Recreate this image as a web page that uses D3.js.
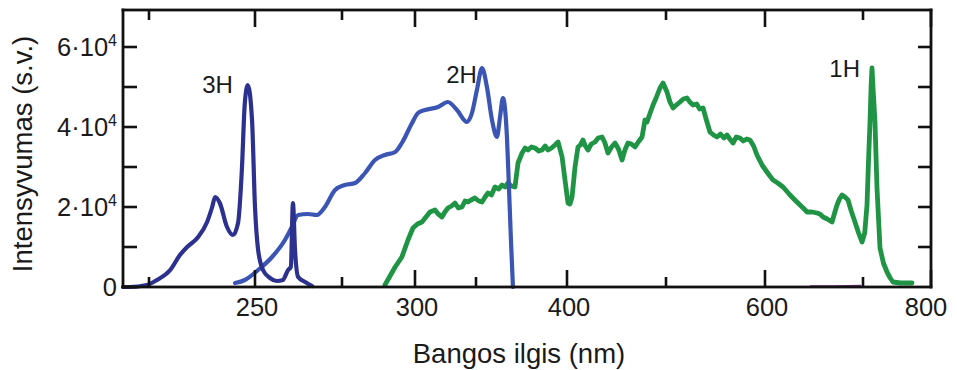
<!DOCTYPE html>
<html>
<head>
<meta charset="utf-8">
<script src="https://cdn.jsdelivr.net/npm/d3@7/dist/d3.min.js"></script>
<style>
  html, body { margin: 0; padding: 0; background: #fff; }
  svg text { font-family: "Liberation Sans", Arial, sans-serif; fill: #1a1a1a; }
</style>
</head>
<body>
<svg id="chart" width="957" height="370"></svg>
<script>
// Wavelength (nm) and intensity (a.u.) of the three harmonics
const h3Wavelength = [219, 220.5, 224.5, 226.9, 230.0, 232.3, 234.0, 236.6, 238.7, 239.9, 240.6, 241.7, 243.4, 244.8, 246.0, 246.9, 247.6, 248.3, 249.3, 250.0, 250.9, 252.3, 254.3, 256.3, 258.0, 259.5, 260.3, 260.9, 261.5, 262.4, 264.4, 266.4];
const h3Intensity  = [0, 0, 500, 1750, 4250, 8000, 10000, 12500, 16250, 20000, 22500, 21000, 15000, 13000, 16000, 29250, 46000, 50500, 41750, 20000, 9250, 4250, 2250, 1500, 1750, 4250, 5000, 21000, 9250, 2500, 1250, 250];

const h2Wavelength = [245.3, 247.6, 250.9, 254.9, 258.6, 260.6, 262.4, 265.2, 267.8, 270.1, 273.0, 276.0, 279.5, 282.9, 286.3, 289.7, 293.2, 295.5, 299.0, 302.5, 308.2, 318.9, 327.0, 334.4, 342.6, 346.7, 350.5, 353.3, 356.0, 358.8, 361.5, 363.2, 364.8, 367.0, 368.1, 369.2, 370.3];
const h2Intensity  = [1000, 1750, 4250, 7500, 11750, 15000, 18000, 18250, 18000, 20000, 24250, 25500, 26000, 28500, 31750, 33000, 33750, 36000, 41000, 43500, 44250, 45000, 46250, 44250, 41250, 43500, 49250, 54750, 50000, 41750, 37500, 42500, 47250, 37500, 25000, 11750, 0];

const h1Wavelength = [289.7, 293.2, 295.5, 297.6, 299.3, 302.0, 305.7, 309.0, 312.3, 316.4, 319.0, 322.1, 324.5, 327.0, 330.0, 332.8, 335.5, 338.5, 341.0, 343.4, 346.0, 349.2, 351.5, 353.3, 355.0, 356.6, 358.5, 360.4, 362.5, 364.3, 366.0, 367.6, 369.5, 371.4, 373.1, 375.3, 377.0, 378.6, 380.5, 382.4, 384.5, 386.3, 388.0, 389.6, 391.5, 393.4, 395.1, 397.3, 398.9, 401.0, 403.0, 405.1, 408.1, 411.1, 413.5, 416.2, 418.5, 421.2, 424.5, 428.3, 431.5, 435.4, 438.0, 441.4, 445.0, 448.5, 452.0, 455.6, 458.5, 461.6, 465.0, 468.7, 472.0, 475.8, 478.8, 480.8, 484.0, 486.9, 490.0, 493.9, 497.0, 501.0, 504.0, 507.1, 510.5, 514.1, 517.5, 521.2, 524.0, 527.3, 531.0, 534.0, 537.4, 540.5, 544.4, 548.0, 551.5, 555.0, 558.5, 561.6, 564.5, 567.7, 571.0, 574.7, 578.0, 581.5, 584.8, 588.5, 591.9, 597.0, 602.0, 605.0, 608.2, 613.0, 618.4, 622.0, 625.5, 630.5, 635.7, 639.0, 642.9, 648.0, 653.1, 656.0, 659.2, 663.5, 668.4, 671.0, 673.5, 676.0, 678.6, 681.5, 684.7, 688.0, 691.8, 695.5, 699.0, 702.5, 705.9, 708.0, 710.3, 712.0, 713.2, 715.0, 717.6, 720.6, 725.0, 730.0, 735.3, 740.0, 744.1, 755.0, 764.7, 772.1];
const h1Intensity  = [500, 5000, 7500, 11750, 14750, 15750, 16250, 17500, 18750, 19250, 18250, 17500, 18750, 19750, 20250, 21000, 19750, 20000, 21500, 21250, 21750, 22250, 21500, 21250, 22500, 23500, 23000, 25000, 24500, 25500, 25000, 26000, 25250, 25000, 31000, 33500, 34750, 34250, 35000, 34750, 34000, 34250, 35250, 34250, 34750, 35500, 36250, 32500, 26750, 21000, 20750, 22500, 30000, 35000, 35500, 36750, 35250, 34250, 35750, 36250, 37250, 37500, 36250, 33500, 35000, 36000, 34500, 31750, 34250, 36000, 35750, 35000, 36250, 37500, 41750, 41250, 43500, 45500, 47250, 49750, 51000, 48750, 46250, 44750, 45500, 46250, 47000, 47250, 46250, 45500, 45750, 44500, 44750, 42000, 38750, 38000, 37500, 38250, 37250, 38000, 37000, 36000, 37500, 37250, 36500, 37000, 36750, 35250, 33000, 30500, 28750, 27750, 26750, 26000, 25000, 24000, 23000, 21750, 20500, 19750, 18750, 18750, 18500, 18250, 17500, 17000, 16250, 18500, 20500, 22000, 23000, 22500, 21750, 19000, 16250, 13500, 11250, 13500, 20500, 31000, 41250, 50500, 54750, 49000, 41250, 24750, 9750, 6000, 3750, 2250, 1250, 1000, 1000, 1000];

// Faint fundamental-range trace lying on the baseline
const baseWavelength = [645.9, 670.0, 698.0];
const baseIntensity  = [250, 250, 400];

// Axis ticks
const xTicksMajor = [250, 300, 400, 600, 800];
const xTicksMinor = [225, 275, 350, 500, 700];
const yTicksMajor = [0, 20000, 40000, 60000];
const yTicksMinor = [10000, 30000, 50000];
const yTicksRight = [10000, 20000, 30000, 40000, 50000, 60000];

const peakLabels = ["3H", "2H", "1H"];
const peakLabelWavelength = [244.8, 350.5, 697];
const peakLabelIntensity  = [48500, 51000, 52500];

const svg = d3.select("#chart");
const plotLeft = 123, plotRight = 931, plotTop = 10, plotBottom = 287;

// Composite wavelength axis: each band is stretched piecewise
const xKnots = [219, 225, 250, 275, 300, 350, 400, 500, 600, 700, 800];
const x = d3.scaleLinear()
  .domain(xKnots)
  .range([123, 149, 255, 342, 415, 476, 567, 666, 765, 863, 931]);
const y = d3.scaleLinear().domain([0, 69250]).range([plotBottom, plotTop]);

const zip = (xs, ys) => xs.map((v, i) => [v, ys[i]]);
const straight = d3.line().x(d => x(d[0])).y(d => y(d[1]));
const smooth = d3.line().x(d => x(d[0])).y(d => y(d[1])).curve(d3.curveMonotoneX);

// Spectra
const spectra = svg.append("g").attr("class", "spectra");
spectra.append("path").datum(zip(baseWavelength, baseIntensity))
  .attr("d", straight).attr("fill", "none").attr("stroke", "#7b2d86").attr("stroke-width", 1.5);
spectra.append("path").datum(zip(h1Wavelength, h1Intensity))
  .attr("d", straight).attr("fill", "none").attr("stroke", "#1f9444")
  .attr("stroke-width", 4.8).attr("stroke-linejoin", "round").attr("stroke-linecap", "round");
spectra.append("path").datum(zip(h2Wavelength, h2Intensity))
  .attr("d", smooth).attr("fill", "none").attr("stroke", "#3a55b4")
  .attr("stroke-width", 4.2).attr("stroke-linejoin", "round").attr("stroke-linecap", "round");
spectra.append("path").datum(zip(h3Wavelength, h3Intensity))
  .attr("d", smooth).attr("fill", "none").attr("stroke", "#2c3190")
  .attr("stroke-width", 4.2).attr("stroke-linejoin", "round").attr("stroke-linecap", "round");

// X tick labels
svg.append("g").selectAll("text").data(xTicksMajor).join("text")
  .attr("x", d => x(d) + (d === 800 ? -5 : 2))
  .attr("y", 316).attr("text-anchor", "middle")
  .attr("font-size", 25.5).text(d => d);

// Y tick labels with powers of ten
const yLab = svg.append("g").selectAll("text").data(yTicksMajor).join("text")
  .attr("x", 117).attr("y", d => y(d) + 9).attr("text-anchor", "end")
  .attr("font-size", 25.5);
yLab.each(function(d) {
  const t = d3.select(this);
  if (d === 0) { t.text("0"); return; }
  t.append("tspan").text(`${d / 1e4}·10`);
  t.append("tspan").attr("font-size", 16).attr("dy", -10).text("4");
});

// Axis titles
svg.append("text").attr("x", 519).attr("y", 363).attr("text-anchor", "middle")
  .attr("font-size", 27.5).text("Bangos ilgis (nm)");
svg.append("text").attr("transform", "translate(32,154) rotate(-90)")
  .attr("text-anchor", "middle").attr("font-size", 27.5).text("Intensyvumas (s.v.)");

// Harmonic labels
svg.append("g").selectAll("text").data(peakLabels).join("text")
  .attr("x", (d, i) => x(peakLabelWavelength[i]))
  .attr("y", (d, i) => y(peakLabelIntensity[i]))
  .attr("text-anchor", "end").attr("font-size", 24).text(d => d);

// Inward tick marks on all four sides, drawn on top of everything
const ink = "#111";
const tickW = 2.6;
const ticks = svg.append("g").attr("class", "ticks").attr("fill", ink);
function vTicks(values, yEdge, len) {
  ticks.append("g").selectAll("rect").data(values).join("rect")
    .attr("x", d => x(d) - tickW / 2).attr("width", tickW)
    .attr("y", len < 0 ? yEdge + len : yEdge).attr("height", Math.abs(len));
}
function hTicks(values, xEdge, len) {
  ticks.append("g").selectAll("rect").data(values).join("rect")
    .attr("y", d => y(d) - tickW / 2).attr("height", tickW)
    .attr("x", len < 0 ? xEdge + len : xEdge).attr("width", Math.abs(len));
}
vTicks(xTicksMajor, plotBottom, -17);
vTicks(xTicksMinor, plotBottom, -10);
vTicks(xTicksMajor, plotTop, 17);
vTicks(xTicksMinor, plotTop, 10);
hTicks(yTicksMajor.concat(yTicksMinor), plotLeft, 14);
hTicks(yTicksRight, plotRight, -13);

// Frame, as four filled edges
const fw = 2.8;
const frame = svg.append("g").attr("class", "frame").attr("fill", ink);
frame.append("rect").attr("x", plotLeft - fw / 2).attr("y", plotTop - fw / 2)
  .attr("width", plotRight - plotLeft + fw).attr("height", fw);
frame.append("rect").attr("x", plotLeft - fw / 2).attr("y", plotBottom - fw / 2)
  .attr("width", plotRight - plotLeft + fw).attr("height", fw);
frame.append("rect").attr("x", plotLeft - fw / 2).attr("y", plotTop - fw / 2)
  .attr("width", fw).attr("height", plotBottom - plotTop + fw);
frame.append("rect").attr("x", plotRight - fw / 2).attr("y", plotTop - fw / 2)
  .attr("width", fw).attr("height", plotBottom - plotTop + fw);
</script>
</body>
</html>
